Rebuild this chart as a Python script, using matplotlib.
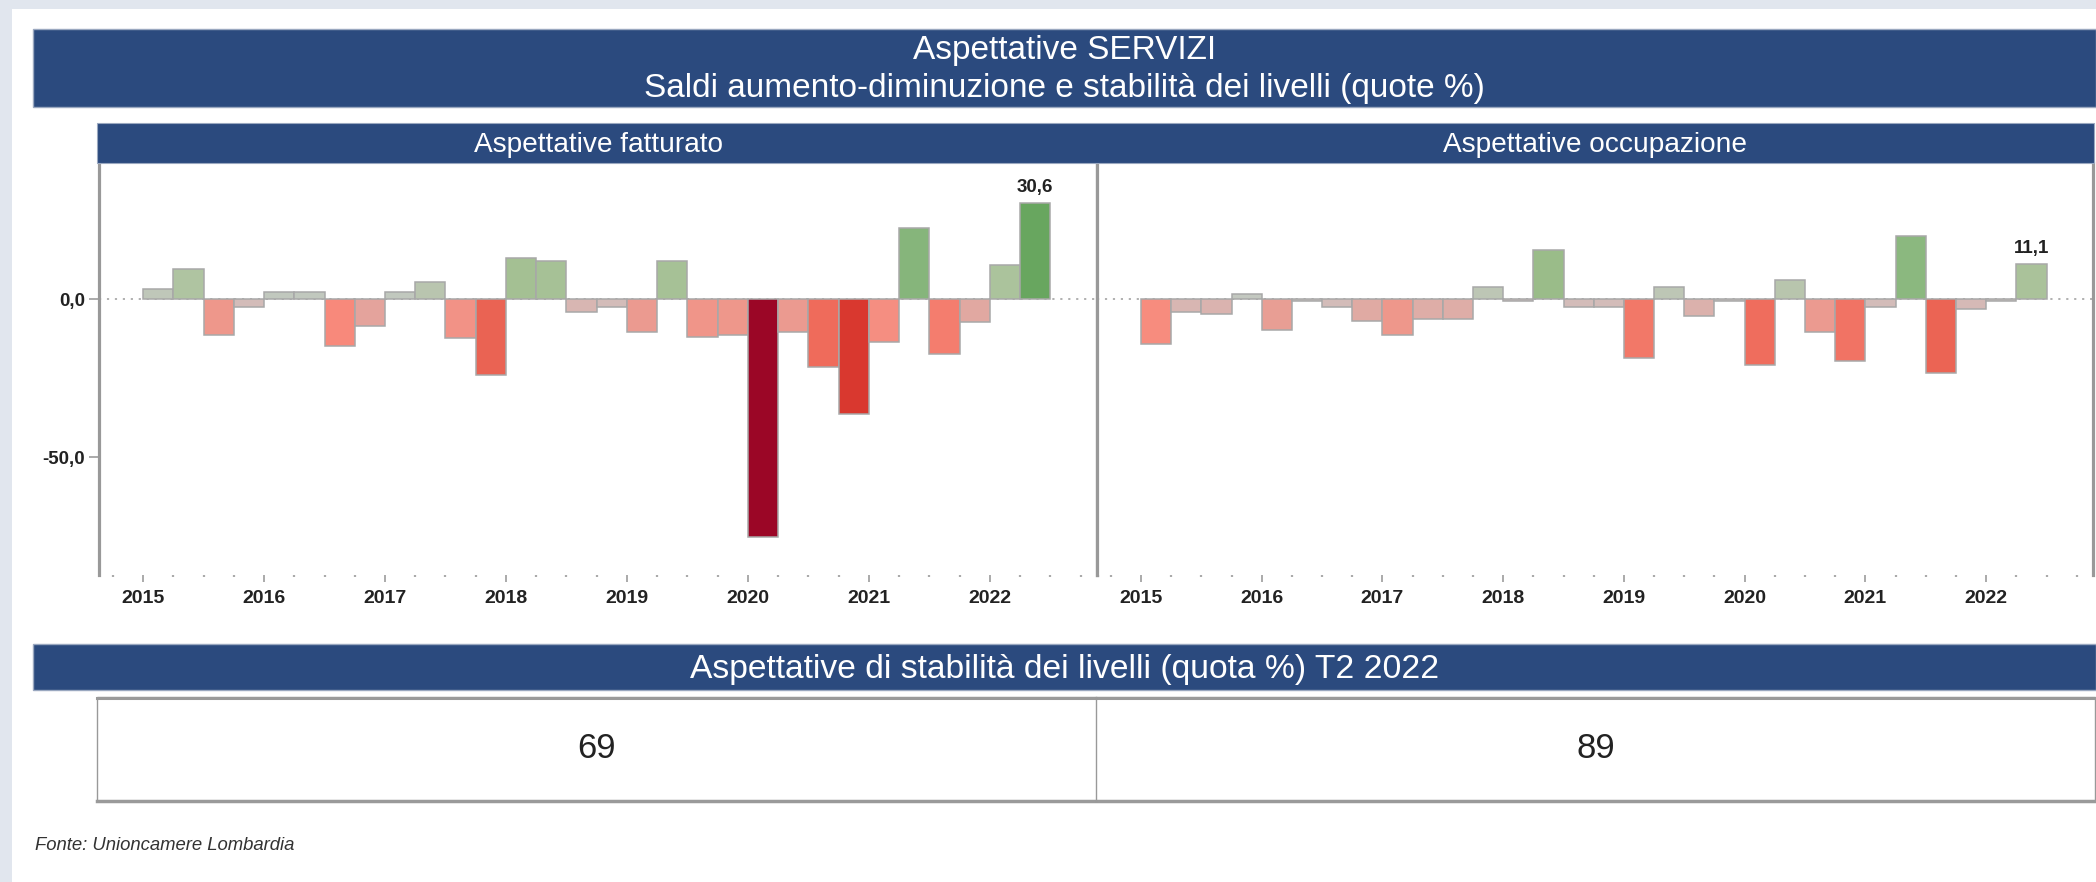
import matplotlib
matplotlib.use("Agg")
import matplotlib.pyplot as plt
import numpy as np
from matplotlib.patches import Rectangle
from matplotlib.lines import Line2D
from matplotlib.ticker import FixedLocator, FuncFormatter
from matplotlib.colors import to_rgb

plt.rcParams['font.family'] = ['Liberation Sans', 'DejaVu Sans']

# ---------------- data ----------------
periods = ['2015Q1', '2015Q2', '2015Q3', '2015Q4',
           '2016Q1', '2016Q2', '2016Q3', '2016Q4',
           '2017Q1', '2017Q2', '2017Q3', '2017Q4',
           '2018Q1', '2018Q2', '2018Q3', '2018Q4',
           '2019Q1', '2019Q2', '2019Q3', '2019Q4',
           '2020Q1', '2020Q2', '2020Q3', '2020Q4',
           '2021Q1', '2021Q2', '2021Q3', '2021Q4',
           '2022Q1', '2022Q2']

fatturato = [3.3, 9.5, -11.3, -2.3, 2.3, 2.3, -14.7, -8.4, 2.3, 5.6,
             -12.4, -23.9, 12.9, 12.2, -4.0, -2.3, -10.5, 12.2, -11.8, -11.3,
             -75.1, -10.5, -21.3, -36.2, -13.4, 22.4, -17.4, -7.3, 10.7, 30.6]

occupazione = [-14.1, -4.0, -4.6, 1.8, -9.7, -0.5, -2.3, -6.9, -11.3, -6.2,
               -6.2, 4.0, -0.7, 15.6, -2.3, -2.3, -18.5, 4.0, -5.2, -0.4,
               -20.8, 6.1, -10.5, -19.4, -2.3, 20.0, -23.4, -3.0, -0.4, 11.1]

year_ticks = [2015, 2016, 2017, 2018, 2019, 2020, 2021, 2022]
y_ticks = [-50, 0]

panel_titles = ['Aspettative fatturato', 'Aspettative occupazione']
stability_values = [69, 89]

title_line1 = 'Aspettative SERVIZI'
title_line2 = 'Saldi aumento-diminuzione e stabilità dei livelli (quote %)'
stability_title = 'Aspettative di stabilità dei livelli (quota %) T2 2022'
source_text = 'Fonte: Unioncamere Lombardia'

# ---------------- style ----------------
W, H = 2096, 882
HEADER = '#2b4a7e'
BG = '#e1e6ee'
TXT = '#222222'

# diverging colour scale (value -> colour)
cmap_vals = [-75.0, -36.0, -23.5, -21.0, -14.5, -11.5, -8.5, -4.0, -0.5, 0.0,
             2.0, 4.0, 10.0, 15.0, 20.0, 22.5, 31.0]
cmap_cols = ['#9b0626', '#d9382f', '#eb6454', '#ef6c5c', '#f88a7c', '#ef968a',
             '#e4a39b', '#d8b6b2', '#cec2c0', '#c8c8c4', '#c2c8bf', '#bdc6b5',
             '#aec49f', '#9cbd8a', '#8bb87f', '#86b57b', '#66a55e']
cmap_rgb = np.array([to_rgb(c) for c in cmap_cols])


def value_color(v):
    return tuple(np.interp(v, cmap_vals, cmap_rgb[:, i]) for i in range(3))


def fmt_it(v, pos=None):
    return f"{v:.1f}".replace('.', ',')


def px_box(x0, y0, x1, y1):
    return [x0 / W, 1 - y1 / H, (x1 - x0) / W, (y1 - y0) / H]


fig = plt.figure(figsize=(W / 100, H / 100), dpi=100)
fig.patch.set_facecolor('white')


def fig_rect(x0, y0, x1, y1, fc, ec='none', lw=0, z=0):
    r = Rectangle((x0 / W, 1 - y1 / H), (x1 - x0) / W, (y1 - y0) / H,
                  transform=fig.transFigure, facecolor=fc, edgecolor=ec,
                  linewidth=lw, zorder=z)
    fig.patches.append(r)


def fig_line(x0, y0, x1, y1, color, lw):
    fig.lines.append(Line2D([x0 / W, x1 / W], [1 - y0 / H, 1 - y1 / H],
                            transform=fig.transFigure, color=color, linewidth=lw))


# background strips
fig_rect(0, 0, W, 9, BG)
fig_rect(0, 0, 12, H, BG)

# main header
fig_rect(33, 29, W, 107, HEADER, ec='#9aa8c0', lw=1)
fig.text(0.5 * (33 + W) / W, 1 - 50 / H, title_line1, color='white',
         fontsize=24, ha='center', va='center')
fig.text(0.5 * (33 + W) / W, 1 - 89 / H, title_line2, color='white',
         fontsize=24, ha='center', va='center')

# sub header band
fig_rect(97, 123, 2094, 163, HEADER, ec='#9aa8c0', lw=0.8)

x_pos = [int(p[:4]) + (int(p[-1]) - 1) / 4 for p in periods]
panels = [(99, 1097, fatturato), (1097, 2093, occupazione)]

for i, (x0, x1, vals) in enumerate(panels):
    ax = fig.add_axes(px_box(x0, 163, x1, 575))
    ax.set_facecolor('white')
    ax.set_xlim(2014.636, 2022.885)
    ax.set_ylim(-87.2, 43.1)
    ax.axhline(0, color='#aaaaaa', lw=1.3, linestyle=(0, (1.2, 3.2)), zorder=1)
    ax.bar(x_pos, vals, width=0.25, align='edge',
           color=[value_color(v) for v in vals],
           edgecolor='#a8a8a8', linewidth=1.1, zorder=2)
    last_x = x_pos[-1] + 0.125
    ax.annotate(fmt_it(vals[-1]), (last_x, vals[-1]), xytext=(0, 5),
                textcoords='offset points', ha='center', va='bottom',
                fontsize=13.5, fontweight='bold', color=TXT)
    for s in ['top', 'bottom']:
        ax.spines[s].set_visible(False)
    for s in ['left', 'right']:
        ax.spines[s].set_color('#999999')
        ax.spines[s].set_linewidth(2.3)
    ax.xaxis.set_major_locator(FixedLocator(year_ticks))
    ax.xaxis.set_minor_locator(FixedLocator(
        [y + q / 4 for y in range(2014, 2023) for q in range(1, 4)]))
    ax.set_xticklabels([str(y) for y in year_ticks])
    ax.tick_params(axis='x', which='major', length=5, width=1.4, color='#aaaaaa',
                   pad=6, labelsize=14)
    ax.tick_params(axis='x', which='minor', length=1.5, width=1.6, color='#aaaaaa')
    for lab in ax.get_xticklabels():
        lab.set_fontweight('bold')
        lab.set_color(TXT)
    if i == 0:
        ax.yaxis.set_major_locator(FixedLocator(y_ticks))
        ax.yaxis.set_major_formatter(FuncFormatter(fmt_it))
        ax.tick_params(axis='y', length=7, width=1.4, color='#aaaaaa', pad=3,
                       labelsize=13.5)
        for lab in ax.get_yticklabels():
            lab.set_fontweight('bold')
            lab.set_color(TXT)
    else:
        ax.set_yticks([])
    fig.text(0.5 * (x0 + x1) / W, 1 - 145.5 / H, panel_titles[i], color='white',
             fontsize=20.2, ha='center', va='center')

# stability header
fig_rect(33, 644, W, 690, HEADER, ec='#9aa8c0', lw=1)
fig.text(0.5 * (33 + W) / W, 1 - 669.5 / H, stability_title, color='white',
         fontsize=24.2, ha='center', va='center')

# stability table
fig_rect(97, 697, 2095, 801, 'white', ec='#999999', lw=1)
fig_line(97, 698, 2095, 698, '#9a9a9a', 2.2)
fig_line(97, 800.5, 2095, 800.5, '#9a9a9a', 2.5)
fig_line(1096, 697, 1096, 801, '#999999', 1)
cell_centers = [0.5 * (97 + 1096), 0.5 * (1096 + 2095)]
for cx, v in zip(cell_centers, stability_values):
    fig.text(cx / W, 1 - 749 / H, str(v), color=TXT, fontsize=25,
             ha='center', va='center')

fig.text(35 / W, 1 - 846 / H, source_text, color='#333333', fontsize=13.3,
         fontstyle='italic', ha='left', va='center')

fig.savefig('out.png', dpi=100, facecolor='white')
